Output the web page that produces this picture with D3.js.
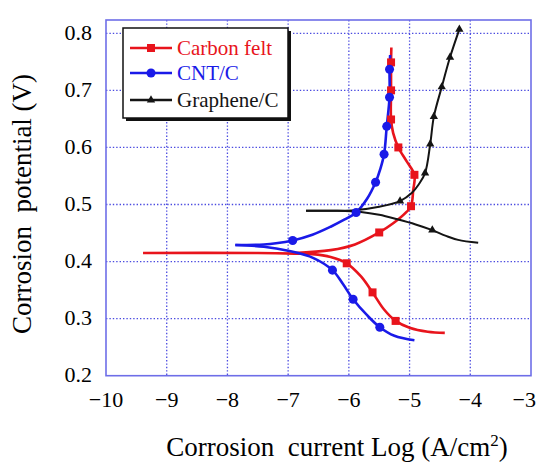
<!DOCTYPE html>
<html>
<head>
<meta charset="utf-8">
<script src="https://cdn.jsdelivr.net/npm/d3@7"></script>
<style>
  body { margin: 0; background: #fff; }
</style>
</head>
<body>
<svg class="chart"></svg>
<script>
const size = {w: 537, h: 464};
const plot = {left: 106, right: 531, top: 20, bottom: 375.7};
const serif = "Liberation Serif, Times New Roman, Tinos, DejaVu Serif, Noto Serif, FreeSerif, Times, serif";

// axis ticks
const xTicks = [-10, -9, -8, -7, -6, -5, -4, -3];
const yTicks = [0.2, 0.3, 0.4, 0.5, 0.6, 0.7, 0.8];

// series names / colours
const seriesNames = ['Carbon felt', 'CNT/C', 'Graphene/C'];
const seriesColors = ['#e8141c', '#1a1ae8', '#141414'];

// Carbon felt : cathodic (lower) and anodic (upper) branches [log i, E]
const redLower = [[-9.39,0.415],[-7.5,0.415],[-6.9,0.414],[-6.6,0.413],[-6.3,0.408],[-6.035,0.397],[-5.8,0.374],[-5.61,0.346],[-5.42,0.316],[-5.23,0.296],[-5.0,0.284],[-4.7,0.277],[-4.42,0.275]];
const redUpper = [[-6.9,0.415],[-6.3,0.420],[-5.9,0.430],[-5.5,0.451],[-5.27,0.467],[-5.05,0.487],[-4.976,0.497],[-4.94,0.525],[-4.92,0.552],[-5.05,0.576],[-5.185,0.600],[-5.27,0.625],[-5.305,0.649],[-5.305,0.70],[-5.305,0.749],[-5.30,0.775]];
const redMarks = [[-6.035,0.397],[-5.61,0.346],[-5.23,0.296],[-5.5,0.451],[-4.976,0.497],[-4.92,0.552],[-5.185,0.600],[-5.305,0.649],[-5.305,0.70],[-5.305,0.749]];

// CNT/C
const blueLower = [[-7.87,0.429],[-7.4,0.426],[-7.0,0.419],[-6.6,0.407],[-6.27,0.385],[-6.1,0.361],[-5.93,0.334],[-5.7,0.306],[-5.49,0.285],[-5.25,0.270],[-4.92,0.262]];
const blueUpper = [[-7.87,0.429],[-7.4,0.430],[-7.2,0.432],[-6.925,0.437],[-6.6,0.447],[-6.3,0.461],[-6.1,0.472],[-5.88,0.486],[-5.7,0.51],[-5.56,0.539],[-5.48,0.563],[-5.42,0.588],[-5.376,0.637],[-5.33,0.688],[-5.33,0.737],[-5.32,0.762]];
const blueMarks = [[-6.27,0.385],[-5.93,0.334],[-5.49,0.285],[-6.925,0.437],[-5.88,0.486],[-5.56,0.539],[-5.42,0.588],[-5.376,0.637],[-5.33,0.688],[-5.33,0.737]];

// Graphene/C
const blackUpper = [[-6.705,0.489],[-6.2,0.489],[-5.9,0.490],[-5.5,0.496],[-5.157,0.506],[-4.965,0.52],[-4.85,0.535],[-4.745,0.555],[-4.66,0.606],[-4.6,0.654],[-4.47,0.706],[-4.334,0.758],[-4.18,0.807]];
const blackLower = [[-6.705,0.489],[-6.2,0.489],[-5.8,0.487],[-5.5,0.482],[-5.2,0.474],[-4.9,0.465],[-4.625,0.455],[-4.4,0.445],[-4.2,0.438],[-3.87,0.433]];
const blackMarks = [[-5.157,0.506],[-4.745,0.555],[-4.66,0.606],[-4.6,0.654],[-4.47,0.706],[-4.334,0.758],[-4.18,0.807],[-4.625,0.455]];

const svg = d3.select('svg.chart')
    .attr('width', size.w)
    .attr('height', size.h)
    .style('font-family', serif);

const x = d3.scaleLinear().domain([-10, -3]).range([plot.left, plot.right]);
const y = d3.scaleLinear().domain([0.2, 0.8]).range([plot.bottom, 33.3]);

const gridColor = '#4b4be0';

// --------- GRID ----------
const grid = svg.append('g');
grid.selectAll('line.gx')
    .data(xTicks.slice(1, -1))
    .join('line')
    .attr('x1', d => x(d)).attr('x2', d => x(d))
    .attr('y1', plot.top).attr('y2', plot.bottom)
    .attr('stroke', gridColor).attr('stroke-width', 1.3)
    .attr('stroke-dasharray', '1.4,2');
grid.selectAll('line.gy')
    .data(yTicks.slice(1))
    .join('line')
    .attr('x1', plot.left).attr('x2', plot.right)
    .attr('y1', d => y(d)).attr('y2', d => y(d))
    .attr('stroke', gridColor).attr('stroke-width', 1.3)
    .attr('stroke-dasharray', '1.4,2');

// frame
svg.append('rect')
    .attr('x', plot.left).attr('y', plot.top)
    .attr('width', plot.right - plot.left)
    .attr('height', plot.bottom - plot.top)
    .attr('fill', 'none')
    .attr('stroke', '#6e6ee8')
    .attr('stroke-width', 1.6);

// tick labels (last one pulled inside the window edge)
svg.append('g').selectAll('text')
    .data(xTicks)
    .join('text')
    .attr('x', (d, i) => i === xTicks.length - 1 ? 536 : x(d))
    .attr('y', 407)
    .attr('text-anchor', (d, i) => i === xTicks.length - 1 ? 'end' : 'middle')
    .attr('font-size', 22)
    .text(d => '\u2212' + Math.abs(d));

svg.append('g').selectAll('text')
    .data(yTicks)
    .join('text')
    .attr('x', 92)
    .attr('y', d => y(d))
    .attr('dy', '0.3em')
    .attr('text-anchor', 'end')
    .attr('font-size', 22)
    .text(d => d.toFixed(1));

// axis titles
const xTitle = svg.append('text')
    .attr('x', 337).attr('y', 456)
    .attr('text-anchor', 'middle')
    .attr('font-size', 27);
xTitle.append('tspan').text('Corrosion\u00a0 current Log (A/cm');
xTitle.append('tspan').attr('font-size', 17).attr('dy', -10).text('2');
xTitle.append('tspan').attr('dy', 10).text(')');

svg.append('text')
    .attr('transform', 'translate(31,204) rotate(-90)')
    .attr('text-anchor', 'middle')
    .attr('font-size', 27)
    .text('Corrosion\u00a0 potential (V)');

// --------- CURVES ----------
const line = d3.line()
    .x(d => x(d[0]))
    .y(d => y(d[1]))
    .curve(d3.curveCatmullRom.alpha(0.5));

const curves = [
    {c: 0, pts: redLower}, {c: 0, pts: redUpper},
    {c: 1, pts: blueLower}, {c: 1, pts: blueUpper},
    {c: 2, pts: blackLower}, {c: 2, pts: blackUpper}
];

svg.append('g').selectAll('path')
    .data(curves)
    .join('path')
    .attr('d', d => line(d.pts))
    .attr('fill', 'none')
    .attr('stroke', d => seriesColors[d.c])
    .attr('stroke-width', d => d.c === 2 ? 2 : 2.6);

// markers
const symbols = [d3.symbolSquare, d3.symbolCircle, d3.symbolTriangle];
const symSizes = [64, 64, 30];
const markSets = [redMarks, blueMarks, blackMarks];

markSets.forEach((marks, i) => {
    svg.append('g').selectAll('path')
        .data(marks)
        .join('path')
        .attr('transform', d => `translate(${x(d[0])},${y(d[1])})`)
        .attr('d', d3.symbol().type(symbols[i]).size(symSizes[i]))
        .attr('fill', seriesColors[i]);
});

// --------- LEGEND ----------
const lg = svg.append('g').attr('transform', 'translate(123,28)');
lg.append('rect')
    .attr('x', 3).attr('y', 3).attr('width', 165).attr('height', 90)
    .attr('fill', '#111');
lg.append('rect')
    .attr('width', 165).attr('height', 90)
    .attr('fill', '#fff')
    .attr('stroke', '#111').attr('stroke-width', 1.5);

const rows = lg.selectAll('g.row')
    .data(seriesNames)
    .join('g')
    .attr('transform', (d, i) => `translate(0,${[20, 45, 72][i]})`);
rows.append('line')
    .attr('x1', 7).attr('x2', 49)
    .attr('stroke', (d, i) => seriesColors[i])
    .attr('stroke-width', 2.6);
rows.append('path')
    .attr('transform', 'translate(28,0)')
    .attr('d', (d, i) => d3.symbol().type(symbols[i]).size(symSizes[i])())
    .attr('fill', (d, i) => seriesColors[i]);
rows.append('text')
    .attr('x', 54).attr('dy', '0.33em')
    .attr('font-size', 21)
    .attr('fill', (d, i) => seriesColors[i])
    .text(d => d);
</script>
</body>
</html>
